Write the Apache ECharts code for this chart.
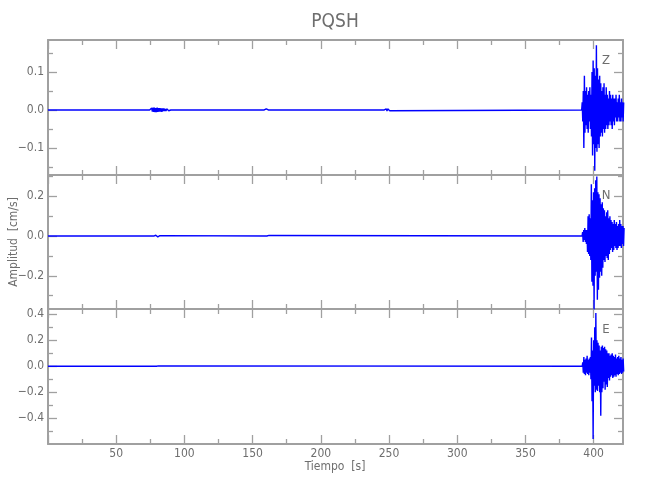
<!DOCTYPE html>
<html><head><meta charset="utf-8">
<script src="https://cdn.jsdelivr.net/npm/echarts@6/dist/echarts.min.js"></script>
<style>html,body{margin:0;padding:0;background:#fff}#c{width:650px;height:500px}</style>
</head><body><div id="c"></div>
<script>
// ---------------- DATA ----------------
const TITLE = 'PQSH';
const X_NAME = 'Tiempo  [s]';
const Y_NAME = 'Amplitud  [cm/s]';
const channelNames = ['Z', 'N', 'E'];
const X_MIN = 0, X_MAX = 421.5;
const xMajorTicks = [0, 50, 100, 150, 200, 250, 300, 350, 400];
const xMinorTicks = [25, 75, 125, 175, 225, 275, 325, 375];
const xTickLabels = [50, 100, 150, 200, 250, 300, 350, 400];

const zRange = [-0.171, 0.184];
const nRange = [-0.367, 0.307];
const eRange = [-0.598, 0.44];
const zMajorTicks = [-0.1, 0, 0.1];
const zMinorTicks = [-0.15, -0.05, 0.05, 0.15];
const nMajorTicks = [-0.2, 0, 0.2];
const nMinorTicks = [-0.3, -0.1, 0.1, 0.3];
const eMajorTicks = [-0.4, -0.2, 0, 0.2, 0.4];
const eMinorTicks = [-0.5, -0.3, -0.1, 0.1, 0.3];

// quiet (pre-event) part: times [s] and amplitudes [cm/s]
const zQuietT = [0, 74.5,
  75, 75.5, 76, 76.5, 77, 77.5, 78, 78.5, 79, 79.5, 80, 80.5, 81, 81.5, 82, 82.5, 83, 83.5, 84, 84.5,
  85, 85.5, 86, 86.5, 87, 87.5, 88, 88.5, 89, 89.5, 90,
  158.5, 159, 159.5, 160, 160.5, 161, 161.5,
  246.5, 247, 247.5, 248, 248.5, 249, 249.5, 250, 250.5, 251, 251.5, 391.2];
const zQuietA = [0, 0,
  0.003, -0.004, 0.005, -0.004, 0.006, -0.005, 0.006, -0.006, 0.005, -0.006, 0.006, -0.005, 0.005, -0.004, 0.005, -0.004, 0.004, -0.005, 0.004, -0.003,
  0.004, -0.003, 0.003, -0.003, 0.003, -0.002, 0.002, -0.002, 0.002, -0.001, 0,
  0, 0.002, -0.003, 0.003, -0.002, 0.001, 0,
  0, 0.002, -0.003, 0.003, -0.003, 0.003, -0.002, 0.002, -0.002, 0.001, 0, 0];
const nQuietT = [0, 77.5, 78, 78.5, 79, 79.5, 80, 80.5, 81, 81.5, 82, 82.5, 160.5, 161, 161.5, 162, 162.5, 391.5];
const nQuietA = [0, 0, 0.003, -0.004, 0.004, -0.003, 0.004, -0.004, 0.003, -0.003, 0.002, 0, 0, 0.004, -0.005, 0.003, 0, 0];
const eQuietT = [0, 79.5, 80, 80.5, 81, 81.5, 391.6];
const eQuietA = [0, 0, 0.004, -0.004, 0.003, 0, 0];

// event part: start time [s] and peak amplitudes every EVENT_STEP seconds
const EVENT_STEP = 0.4;
const zEventStart = 391.6;
const zEventA = [0.02, -0.03, 0.05, -0.10, 0.09, -0.06,
  0.05, -0.04, 0.06, -0.05, 0.04, -0.06, 0.05, -0.03, 0.06, -0.05, 0.04, -0.07,
  0.10, -0.12, 0.13, -0.09, 0.11, -0.16, 0.09, -0.10, 0.17, -0.11, 0.11, -0.09, 0.08, -0.10, 0.09,
  -0.07, 0.07, -0.06, 0.05, -0.07, 0.06, -0.05, 0.07, -0.06, 0.04, -0.05, 0.06,
  -0.04, 0.04, -0.05, 0.03, -0.04, 0.05, -0.03, 0.04, -0.04, 0.03, -0.05, 0.04,
  -0.03, 0.03, -0.04, 0.03, -0.02, 0.04, -0.03, 0.02, -0.03, 0.03, -0.02, 0.04, -0.03, 0.02, -0.03, 0.03, -0.02, 0.02, -0.03, 0.02];
const nEventStart = 391.9;
const nEventA = [0.02, -0.03, 0.03, -0.02, 0.04, -0.03, 0.03, -0.04, 0.03,
  -0.08, 0.10, -0.09, 0.11, -0.10, 0.09, -0.12,
  0.26, -0.23, 0.18, -0.25, 0.22, -0.37, 0.24, -0.20, 0.28, -0.18, 0.30, -0.32, 0.22, -0.27, 0.21,
  -0.21, 0.19, -0.18, 0.16, -0.20, 0.17, -0.16, 0.14,
  -0.12, 0.13, -0.13, 0.10, -0.10, 0.12, -0.11, 0.13, -0.12, 0.09, -0.09, 0.10,
  -0.07, 0.08, -0.06, 0.07, -0.08, 0.06, -0.07, 0.08, -0.05, 0.06, -0.06, 0.07, -0.07, 0.05, -0.06, 0.06, -0.05, 0.08, -0.05, 0.06, -0.06, 0.05, -0.04, 0.05, -0.05, 0.04];
const eEventStart = 392.0;
const eEventA = [0.03, -0.05,
  0.07, -0.06, 0.05, -0.07, 0.06, -0.05, 0.08, -0.06, 0.05, -0.07, 0.06, -0.05, 0.07,
  -0.10, 0.22, -0.27, 0.12, -0.56, 0.20, -0.15, 0.30, -0.20, 0.41, -0.18, 0.20, -0.19, 0.18, -0.15, 0.16, -0.20, 0.12, -0.38, 0.15,
  -0.20, 0.16, -0.17, 0.14, -0.12, 0.15, -0.18, 0.13, -0.14, 0.12, -0.16, 0.10,
  -0.09, 0.10, -0.11, 0.08, -0.08, 0.09, -0.07, 0.10, -0.09, 0.08, -0.08, 0.07, -0.07, 0.09, -0.08, 0.06, -0.06, 0.07, -0.07, 0.08, -0.06, 0.06, -0.05, 0.07, -0.06, 0.05, -0.05, 0.06, -0.04];

// ---------------- BUILD ----------------
function buildTrace(qT, qA, start, ev) {
  const d = qT.map((t, i) => [t, qA[i]]);
  ev.forEach((v, i) => d.push([+(start + i * EVENT_STEP).toFixed(2), v]));
  return d;
}
const traces = [
  buildTrace(zQuietT, zQuietA, zEventStart, zEventA),
  buildTrace(nQuietT, nQuietA, nEventStart, nEventA),
  buildTrace(eQuietT, eQuietA, eEventStart, eEventA)
];
const ranges = [zRange, nRange, eRange];
const majors = [zMajorTicks, nMajorTicks, eMajorTicks];
const minors = [zMinorTicks, nMinorTicks, eMinorTicks];

const FONT = '"DejaVu Sans Condensed", "Liberation Sans Narrow", "DejaVu Sans", sans-serif';
const AXIS_COLOR = '#a0a0a0';
const TEXT_COLOR = '#6e6e6e';
const panelTops = [40, 175, 309];
const panelHeights = [135, 134, 135];
const GRID_LEFT = 48, GRID_WIDTH = 575;

const grids = [], xAxes = [], yAxes = [], series = [];
const fmt = v => v.toFixed(1).replace('-', '\u2212');
const line = {show: true, onZero: false, lineStyle: {color: AXIS_COLOR, width: 2}};
const noLine = {show: false, onZero: false};
const tickStyle = {color: AXIS_COLOR, width: 1.3};

for (let i = 0; i < 3; i++) {
  grids.push({left: GRID_LEFT, width: GRID_WIDTH, top: panelTops[i], height: panelHeights[i], containLabel: false, outerBoundsMode: 'none'});
  const xb = {type: 'value', gridIndex: i, min: X_MIN, max: X_MAX, splitLine: {show: false}};
  xAxes.push(Object.assign({}, xb, {position: 'bottom', axisLine: line,
    axisTick: {show: true, inside: true, length: 9, customValues: xMajorTicks, lineStyle: tickStyle},
    axisLabel: i === 2 ? {show: true, customValues: xTickLabels, color: TEXT_COLOR, fontFamily: FONT, fontSize: 12, margin: 4} : {show: false}}));
  xAxes.push(Object.assign({}, xb, {position: 'bottom', axisLine: noLine,
    axisTick: {show: true, inside: true, length: 5, customValues: xMinorTicks, lineStyle: tickStyle}, axisLabel: {show: false}}));
  xAxes.push(Object.assign({}, xb, {position: 'top', axisLine: line,
    axisTick: {show: true, inside: true, length: 9, customValues: xMajorTicks, lineStyle: tickStyle}, axisLabel: {show: false}}));
  xAxes.push(Object.assign({}, xb, {position: 'top', axisLine: noLine,
    axisTick: {show: true, inside: true, length: 5, customValues: xMinorTicks, lineStyle: tickStyle}, axisLabel: {show: false}}));

  const yb = {type: 'value', gridIndex: i, min: ranges[i][0], max: ranges[i][1], splitLine: {show: false}};
  yAxes.push(Object.assign({}, yb, {position: 'left', axisLine: line,
    axisTick: {show: true, inside: true, length: 9, customValues: majors[i], lineStyle: tickStyle},
    axisLabel: {show: true, customValues: majors[i], formatter: fmt, color: TEXT_COLOR, fontFamily: FONT, fontSize: 12, margin: 4}}));
  yAxes.push(Object.assign({}, yb, {position: 'left', axisLine: noLine,
    axisTick: {show: true, inside: true, length: 5, customValues: minors[i], lineStyle: tickStyle}, axisLabel: {show: false}}));
  yAxes.push(Object.assign({}, yb, {position: 'right', axisLine: line,
    axisTick: {show: true, inside: true, length: 9, customValues: majors[i], lineStyle: tickStyle}, axisLabel: {show: false}}));
  yAxes.push(Object.assign({}, yb, {position: 'right', axisLine: noLine,
    axisTick: {show: true, inside: true, length: 5, customValues: minors[i], lineStyle: tickStyle}, axisLabel: {show: false}}));

  series.push({type: 'line', name: channelNames[i], xAxisIndex: i * 4, yAxisIndex: i * 4,
    data: traces[i], showSymbol: false, symbol: 'none', clip: true,
    lineStyle: {color: '#0000ff', width: 1.4}, z: 1});
}

const graphic = [
  {type: 'text', x: 335, y: 22, style: {text: TITLE, textAlign: 'center', textVerticalAlign: 'middle', font: '19px ' + FONT, fill: TEXT_COLOR}},
  {type: 'text', x: 335, y: 467, style: {text: X_NAME, textAlign: 'center', textVerticalAlign: 'middle', font: '12px ' + FONT, fill: TEXT_COLOR}},
  {type: 'text', x: 14, y: 242, rotation: Math.PI / 2, style: {text: Y_NAME, textAlign: 'center', textVerticalAlign: 'middle', font: '12px ' + FONT, fill: TEXT_COLOR}}
];
const labelY = [61, 196, 330];
channelNames.forEach((n, i) => graphic.push({type: 'text', x: 606, y: labelY[i],
  style: {text: n, textAlign: 'center', textVerticalAlign: 'middle', font: '13px ' + FONT, fill: TEXT_COLOR}}));

const chart = echarts.init(document.getElementById('c'), null, {renderer: 'canvas'});
chart.setOption({
  animation: false,
  backgroundColor: '#ffffff',
  grid: grids, xAxis: xAxes, yAxis: yAxes, series: series, graphic: graphic
});
</script></body></html>
